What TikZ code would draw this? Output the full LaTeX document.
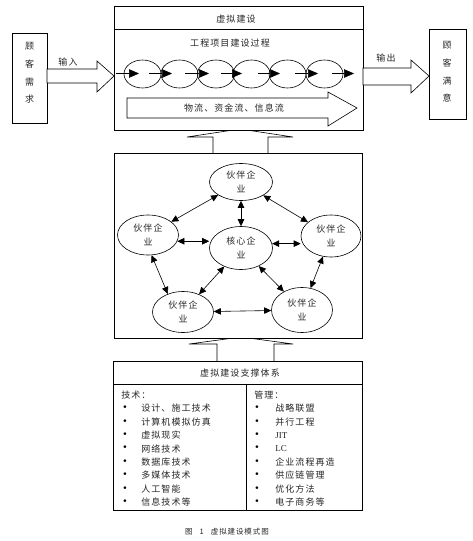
\documentclass[tikz,border=0pt]{standalone}
\usepackage{fontspec}
\setmainfont{Noto Sans CJK SC}[LetterSpace=12]
\newfontfamily\latinfont{Liberation Serif}
\newfontfamily\bulletfont{DejaVu Sans}
\usetikzlibrary{arrows.meta,shapes.geometric}
\begin{document}
\begin{tikzpicture}[x=1pt,y=-1pt,
  line width=0.6pt,
  every node/.style={inner sep=0pt, text=black!85, font=\fontsize{9}{11}\selectfont},
  box/.style={draw, fill=white, minimum width=#1},
  pell/.style={draw, ellipse, minimum width=37pt, minimum height=28pt},
  nell/.style={draw, ellipse},
  ntext/.style={align=center, font=\fontsize{9}{14}\selectfont},
  vtext/.style={align=center, font=\fontsize{9}{17.8}\selectfont},
  parr/.style={-{Triangle[length=10pt,width=8.5pt]}},
  narr/.style={{Triangle[length=7pt,width=6.5pt]}-{Triangle[length=7pt,width=6.5pt]}},
  blk/.style={draw, fill=white, line join=miter},
  bul/.style={text=black, font=\bulletfont\fontsize{9}{10}\selectfont},
]
\useasboundingbox (0,0) rectangle (472,541);

% up block arrows between the boxes (drawn first, apex hidden)
\draw[blk] (213,153) -- (213,137) -- (187,137) -- (240,129) -- (293,137) -- (268,137) -- (268,153);
\draw[blk] (217,361) -- (217,344) -- (189,344) -- (241,337) -- (293,344) -- (274,344) -- (274,361);

% main boxes
\node[box=249pt, minimum height=124pt, anchor=north west] (B1) at (114,6) {};
\node[box=248pt, minimum height=185pt, anchor=north west] (B2) at (114,153) {};
\node[box=249pt, minimum height=149pt, anchor=north west] (B3) at (113,361) {};
\draw (114,29) -- (363,29);
\draw (113,384) -- (362,384);
\draw (246,384) -- (246,510);

% side boxes
\node[box=35pt, minimum height=90pt, anchor=north west] (LB) at (12,33) {};
\node[box=37pt, minimum height=90pt, anchor=north west] (RB) at (429,29) {};
\node[vtext] (LBt) at (29.5,73) {顾\\客\\需\\求};
\node[vtext] (RBt) at (447,72) {顾\\客\\满\\意};

% input / output block arrows
\draw[blk] (47,69) -- (97,69) -- (97,61) -- (114,76) -- (97,92) -- (97,83) -- (47,83) -- cycle;
\draw[blk] (363,68) -- (411,68) -- (411,60) -- (429,76) -- (411,93) -- (411,85) -- (363,85) -- cycle;
\node (in) at (68,62) {输入};
\node (out) at (386,58) {输出};

% box 1 contents
\node (t1) at (236,19) {虚拟建设};
\node (t2) at (230,43) {工程项目建设过程};
\foreach \x [count=\i] in {142.5,179.5,216,251.5,287.5,324.5}
  \node[pell] (e\i) at (\x,74) {};
\foreach \s/\e [count=\i] in {116/139,149/172,185/209,221/242,258/280,295/318,332/354} {
  \coordinate (ps\i) at (\s,73.5);
  \coordinate (pe\i) at (\e,73.5);
  \draw[parr] (ps\i) -- (pe\i);
}
\draw[blk] (127,98) -- (328,98) -- (328,92) -- (357,108) -- (328,126) -- (328,118) -- (127,118) -- cycle;
\node (flow) at (234,108) {物流、资金流、信息流};

% box 2: network
\node[nell, minimum width=63pt, minimum height=37pt] (T) at (241,182) {};
\node[nell, minimum width=61pt, minimum height=40pt] (L) at (148,235) {};
\node[nell, minimum width=63pt, minimum height=43pt] (C) at (241,248) {};
\node[nell, minimum width=60pt, minimum height=42pt] (R) at (331,236) {};
\node[nell, minimum width=61pt, minimum height=41pt] (BL) at (183,312) {};
\node[nell, minimum width=61pt, minimum height=45pt] (BR) at (302,310) {};
\node[ntext] (Tt) at (T) {伙伴企\\业};
\node[ntext] (Lt) at (L) {伙伴企\\业};
\node[ntext] (Ct) at (C) {核心企\\业};
\node[ntext] (Rt) at (R) {伙伴企\\业};
\node[ntext] (BLt) at (BL) {伙伴企\\业};
\node[ntext] (BRt) at (BR) {伙伴企\\业};
\draw[narr] (T) -- (L);
\draw[narr] (T) -- (R);
\draw[narr] (T) -- (C);
\draw[narr] (L.-12) -- (L.-12 -| C.west);
\draw[narr] (C.8) -- (C.8 -| R.west);
\draw[narr] (L.-80) -- (BL.130);
\draw[narr] (C) -- (BL);
\draw[narr] (C) -- (BR);
\draw[narr] (R) -- (BR);
\draw[narr] (BL) -- (BR);

% box 3 contents
\node (t3) at (240,373) {虚拟建设支撑体系};
\node[anchor=west] (tech) at (121,395) {技术：};
\node[anchor=west] (mgmt) at (254,395) {管理：};
\foreach \t [count=\i] in {设计、施工技术,计算机模拟仿真,虚拟现实,网络技术,数据库技术,多媒体技术,人工智能,信息技术等} {
  \node[anchor=west] (lt\i) at (141,395+13.4*\i) {\t};
  \node[bul] (lb\i) at (125,395+13.4*\i) {•};
}
\foreach \t [count=\i] in {战略联盟,并行工程,{\latinfont JIT},{\latinfont LC},企业流程再造,供应链管理,优化方法,电子商务等} {
  \node[anchor=west] (rt\i) at (275,395+13.4*\i) {\t};
  \node[bul] (rb\i) at (257,395+13.4*\i) {•};
}

% caption
\node (cap) at (227,532) {\fontsize{7.5}{8}\selectfont 图\hspace{7pt}1\hspace{7pt}虚拟建设模式图};
\end{tikzpicture}
\end{document}
